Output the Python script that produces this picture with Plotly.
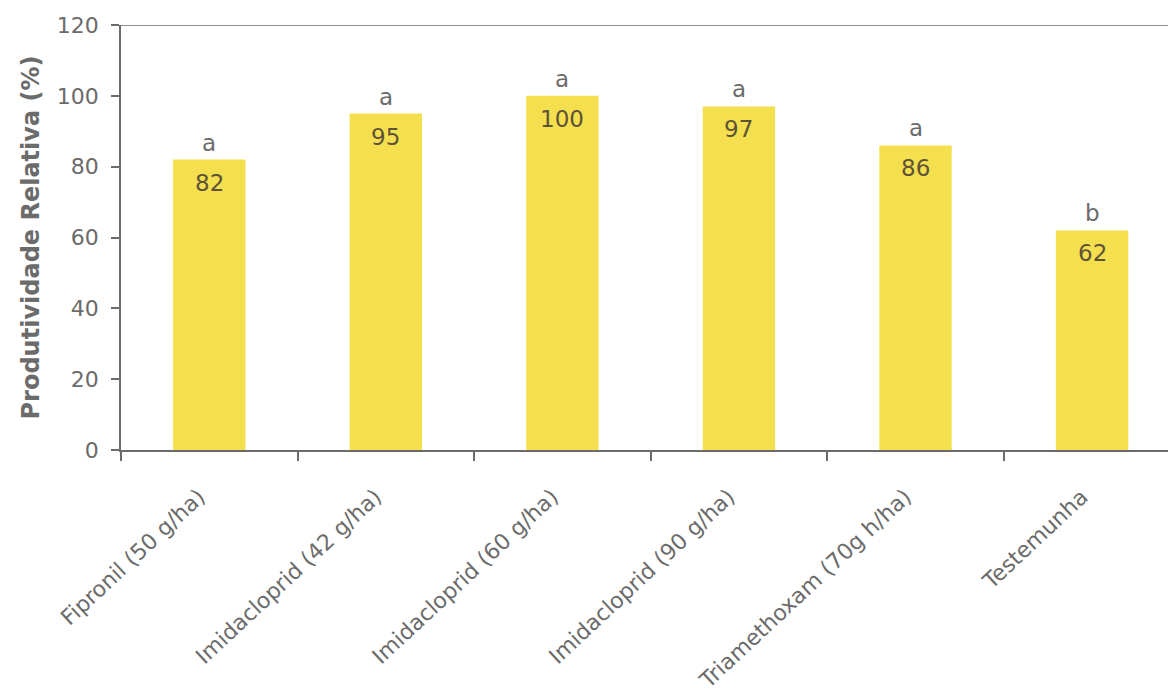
import plotly.graph_objects as go

# Relative yield by seed treatment
tratamentos = [
    "Fipronil (50 g/ha)",
    "Imidacloprid (42 g/ha)",
    "Imidacloprid (60 g/ha)",
    "Imidacloprid (90 g/ha)",
    "Triamethoxam (70g h/ha)",
    "Testemunha",
]
produtividade = [82, 95, 100, 97, 86, 62]
letras = ["a", "a", "a", "a", "a", "b"]
y_ticks = [0, 20, 40, 60, 80, 100, 120]

FONT = "DejaVu Sans"
GRAY = "#6b6b6b"
BAR = "#f4e04e"
NUM = "#5e5237"

fig = go.Figure()
fig.add_trace(go.Bar(
    x=tratamentos,
    y=produtividade,
    width=0.41,
    marker=dict(color=BAR, line=dict(width=0)),
    hoverinfo="skip",
))

# Significance letters above bars and values inside bar tops
for cat, val, let in zip(tratamentos, produtividade, letras):
    fig.add_annotation(x=cat, y=val, text=let, showarrow=False,
                       yanchor="bottom", yshift=2,
                       font=dict(family=FONT, size=23, color=GRAY))
    fig.add_annotation(x=cat, y=val, text=str(val), showarrow=False,
                       yanchor="top", yshift=-8,
                       font=dict(family=FONT, size=23, color=NUM))

# Top frame line
fig.add_shape(type="line", xref="paper", yref="y", x0=0, x1=1, y0=120, y1=120,
              line=dict(color=GRAY, width=1.5))

# Rotated labels end slightly left of the category centre
rotulos = [t + "\u00a0\u00a0" for t in tratamentos]

fig.update_layout(
    width=1168, height=699,
    margin=dict(l=121, r=0, t=25, b=249),
    paper_bgcolor="white", plot_bgcolor="white",
    showlegend=False,
    xaxis=dict(
        type="category",
        range=[-0.5, 5.43],
        automargin=False,
        tickmode="array", tickvals=tratamentos, ticktext=rotulos,
        showline=True, linecolor=GRAY, linewidth=1.5,
        ticks="outside", tickson="boundaries", ticklen=9, tickcolor=GRAY, tickwidth=1.5,
        ticklabelstandoff=14,
        tickangle=-43,
        tickfont=dict(family=FONT, size=22, color=GRAY),
        showgrid=False, zeroline=False,
    ),
    yaxis=dict(
        range=[0, 120],
        tickvals=y_ticks,
        automargin=False,
        showline=True, linecolor=GRAY, linewidth=1.5,
        ticks="outside", ticklen=8, tickcolor=GRAY, tickwidth=1.5,
        ticklabelstandoff=8,
        tickfont=dict(family=FONT, size=22, color=GRAY),
        showgrid=False, zeroline=False,
        title=dict(text="<b>Produtividade Relativa (%)</b>",
                   font=dict(family=FONT, size=24, color=GRAY), standoff=10),
    ),
)

fig.write_html("out.html")
